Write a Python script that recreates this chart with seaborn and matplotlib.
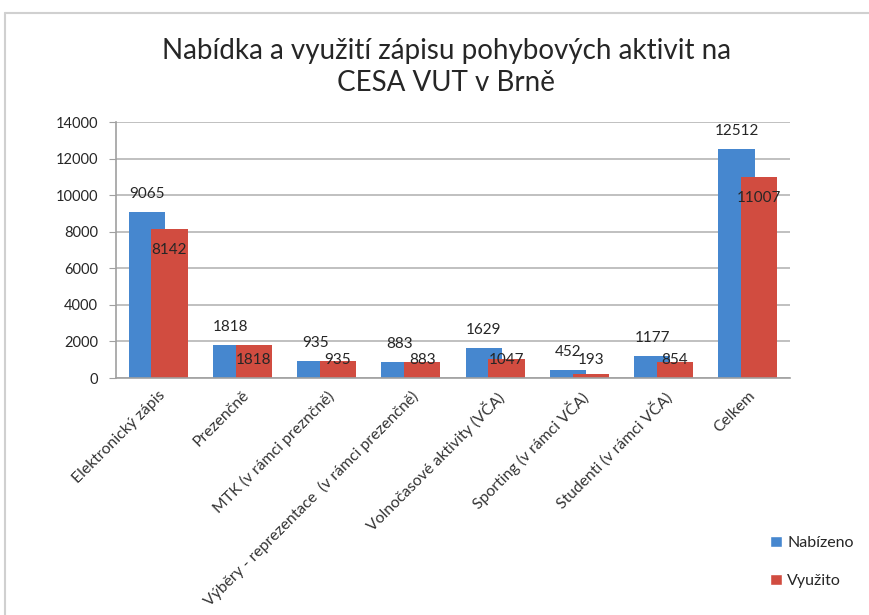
import pandas as pd
import matplotlib.pyplot as plt
import seaborn as sns
from matplotlib.lines import Line2D
from matplotlib.patches import Patch

categories = [
    "Elektronický zápis",
    "Prezenčně",
    "MTK (v rámci preznčně)",
    "Výběry - reprezentace  (v rámci prezenčně)",
    "Volnočasové aktivity (VČA)",
    "Sporting (v rámci VČA)",
    "Studenti (v rámci VČA)",
    "Celkem",
]
nabizeno = [9065, 1818, 935, 883, 1629, 452, 1177, 12512]
vyuzito = [8142, 1818, 935, 883, 1047, 193, 854, 11007]
series = ["Nabízeno", "Využito"]
colors = ["#4687cf", "#d14c40"]

df = pd.DataFrame({
    "cat": categories * 2,
    "series": [series[0]] * len(categories) + [series[1]] * len(categories),
    "value": nabizeno + vyuzito,
})

sns.set_style("white")
plt.rcParams["font.family"] = ["Lato", "DejaVu Sans"]

fig = plt.figure(figsize=(8.69, 6.15), dpi=100)
ax = fig.add_axes([116 / 869, 1 - 378 / 615, (790 - 116) / 869, (378 - 122) / 615])

sns.barplot(data=df, x="cat", y="value", hue="series", palette=colors,
            width=0.86, ax=ax, legend=False, saturation=1)

# Excel-style overlap of the two series
shift = 0.08
for i, cont in enumerate(ax.containers):
    for bar in cont:
        bar.set_x(bar.get_x() + (shift if i == 0 else -shift))
        bar.set_linewidth(0)

for bar, v in zip(ax.containers[0], nabizeno):
    ax.annotate(str(v), (bar.get_x() + bar.get_width() / 2, v), xytext=(0, 8),
                textcoords="offset points", ha="center", va="bottom", fontsize=11)
# "inside end" labels, kept above the baseline for short bars
for bar, v in zip(ax.containers[1], vyuzito):
    ax.text(bar.get_x() + bar.get_width() / 2, max(v - 1150, 1000), str(v),
            ha="center", va="center", fontsize=11)

ax.set_ylim(0, 14000)
ax.set_xlim(-0.5, 7.5)
ax.set_yticks(range(0, 14001, 2000))
ax.yaxis.grid(True, color="#b5b5b5", linewidth=1.2)
ax.set_axisbelow(True)
ax.set_xlabel("")
ax.set_ylabel("")
for s in ["top", "right"]:
    ax.spines[s].set_visible(False)
for s in ["left", "bottom"]:
    ax.spines[s].set_color("#a0a0a0")
    ax.spines[s].set_linewidth(1.2)
ax.tick_params(axis="y", left=True, length=5, color="#a0a0a0", labelsize=10.5, pad=8)
ax.tick_params(axis="x", bottom=False, labelsize=11.3, pad=4)
plt.setp(ax.get_xticklabels(), rotation=45, ha="right", rotation_mode="anchor", color="#333333")

fig.text(446 / 869, 1 - 67 / 615, "Nabídka a využití zápisu pohybových aktivit na\nCESA VUT v Brně",
         ha="center", va="center", fontsize=20, linespacing=1.3)

handles = [Patch(facecolor=c, label=s) for c, s in zip(colors, series)]
fig.legend(handles=handles, loc="center left", bbox_to_anchor=(756 / 869, 1 - 562 / 615),
           frameon=False, fontsize=11.5, handlelength=0.7, handleheight=0.7,
           handletextpad=0.35, labelspacing=1.5)

# chart frame lines (top and left edges)
fig.add_artist(Line2D([5 / 869, 1], [1 - 13 / 615, 1 - 13 / 615], color="#d0d0d0", linewidth=1.5))
fig.add_artist(Line2D([5 / 869, 5 / 869], [0, 1 - 13 / 615], color="#d0d0d0", linewidth=1.5))

fig.savefig("out.png", dpi=100)
